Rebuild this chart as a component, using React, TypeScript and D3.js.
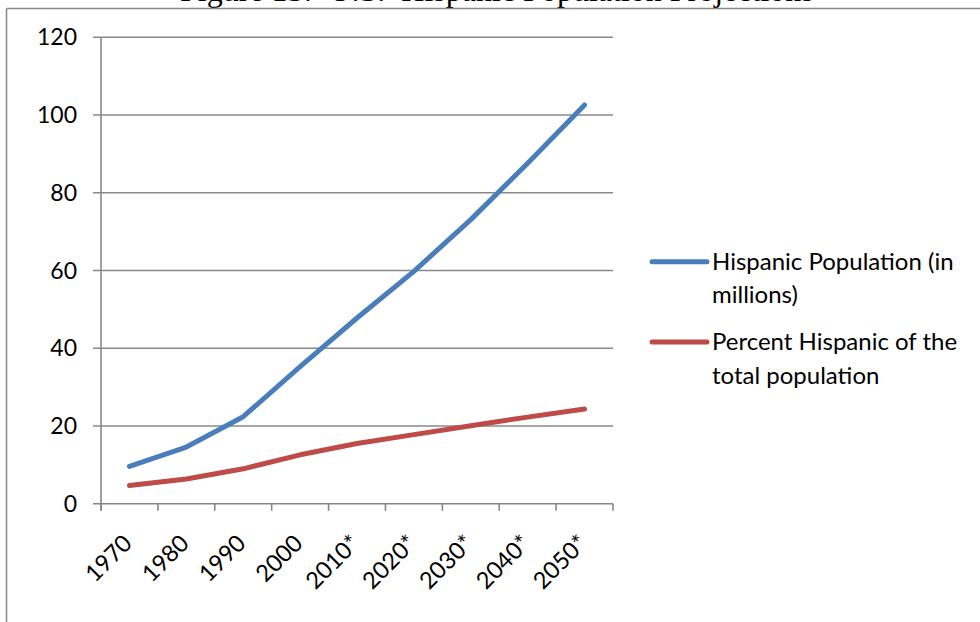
import React from "react";
import * as d3 from "d3";

const categories = ["1970", "1980", "1990", "2000", "2010*", "2020*", "2030*", "2040*", "2050*"];
const hispanicPopulation = [9.6, 14.6, 22.4, 35.3, 47.8, 59.8, 73.1, 87.6, 102.6];
const percentHispanic = [4.7, 6.4, 9.0, 12.6, 15.5, 17.8, 20.1, 22.3, 24.4];
const yTicks = [0, 20, 40, 60, 80, 100, 120];
const seriesNames = ["Hispanic Population (in|millions)", "Percent Hispanic of the|total population"];
const title = "Figure 13:  U.S.  Hispanic Population Projections";

const W = 980, H = 622;
const plot = { left: 101, right: 613, top: 37.3, bottom: 503.8 };
const colors = ["#4A7EBB", "#BE4B48"];
const grid = "#888888";
const font = "Lato, 'Open Sans', sans-serif";

export default function App() {
  const x = d3.scaleBand<string>().domain(categories).range([plot.left, plot.right]).padding(0);
  const y = d3.scaleLinear().domain([0, 120]).range([plot.bottom, plot.top]);
  const cx = (c: string) => (x(c) as number) + x.bandwidth() / 2;
  const line = d3.line<number>().x((_, i) => cx(categories[i])).y((d) => y(d));
  const series = [hispanicPopulation, percentHispanic];
  const boundaries = d3.range(categories.length + 1).map((i) => plot.left + i * x.bandwidth());

  return (
    <svg width={W} height={H} style={{ position: "absolute", left: 0, top: 0, background: "#fff" }}>
      <rect x={0} y={0} width={W} height={H} fill="#fff" />
      <text x={180} y={1} fontFamily="'Liberation Serif', 'Times New Roman', serif" fontSize={32} fill="#000" style={{ whiteSpace: "pre" }}>
        {title}
      </text>
      {/* frame */}
      <line x1={6.5} x2={W} y1={8.5} y2={8.5} stroke={grid} strokeWidth={1.5} />
      <line x1={6.5} x2={6.5} y1={8.5} y2={H} stroke={grid} strokeWidth={1.5} />
      {/* gridlines */}
      {yTicks.map((t) => (
        <g key={t}>
          <line x1={plot.left - 8} x2={plot.right} y1={y(t)} y2={y(t)} stroke={grid} strokeWidth={1.6} />
          <text x={77} y={y(t)} dy="0.35em" textAnchor="end" fontFamily={font} fontSize={23} fill="#000">
            {t}
          </text>
        </g>
      ))}
      <line x1={plot.left} x2={plot.left} y1={plot.top} y2={plot.bottom + 7} stroke={grid} strokeWidth={1.6} />
      {boundaries.map((bx, i) => (
        <line key={i} x1={bx} x2={bx} y1={plot.bottom} y2={plot.bottom + 7} stroke={grid} strokeWidth={1.6} />
      ))}
      {categories.map((c) => (
        <text
          key={c}
          transform={`translate(${cx(c) + 4},${plot.bottom + 41}) rotate(-45)`}
          textAnchor="end"
          fontFamily={font}
          fontSize={23.5}
          fill="#000"
        >
          {c}
        </text>
      ))}
      {series.map((s, i) => (
        <path key={i} d={line(s) as string} fill="none" stroke={colors[i]} strokeWidth={5} strokeLinecap="round" strokeLinejoin="round" />
      ))}
      {/* legend */}
      {seriesNames.map((name, i) => {
        const ly = i === 0 ? 261.7 : 342;
        const lines = name.split("|");
        return (
          <g key={i}>
            <line x1={652} x2={707} y1={ly} y2={ly} stroke={colors[i]} strokeWidth={5} strokeLinecap="round" />
            {lines.map((l, j) => (
              <text key={j} x={712} y={ly + 8} dy={j * 33.7} fontFamily={font} fontSize={24} fill="#000">
                {l}
              </text>
            ))}
          </g>
        );
      })}
    </svg>
  );
}
